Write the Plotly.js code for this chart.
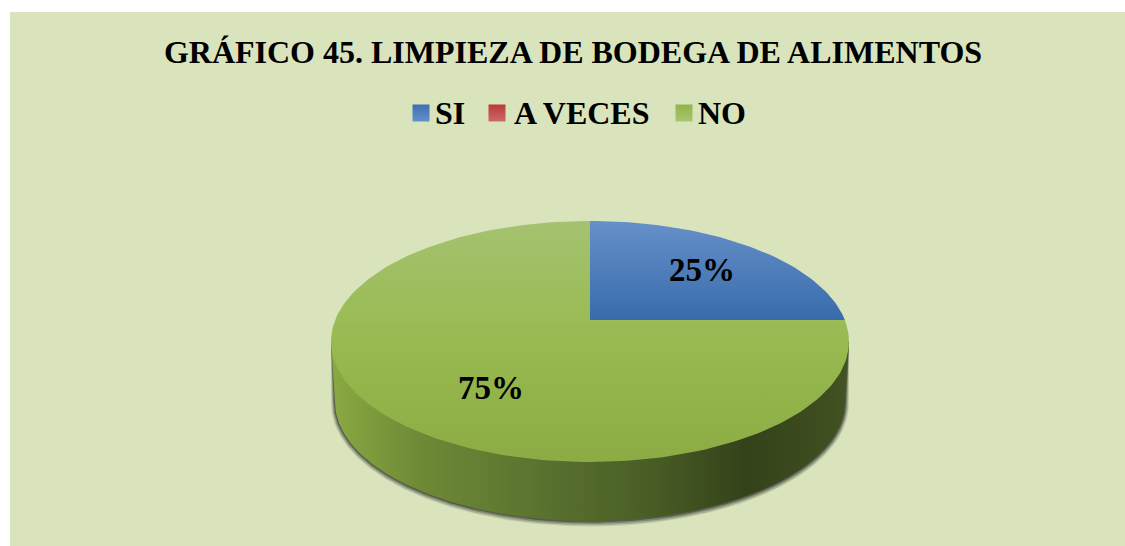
<!DOCTYPE html>
<html><head><meta charset="utf-8">
<script src="https://cdn.plot.ly/plotly-3.0.1.min.js"></script>
<style>html,body{margin:0;padding:0;background:#fff}#c{width:1125px;height:546px}</style>
</head><body><div id="c"></div>
<script>
// ---- data ----
const categories = ["SI", "A VECES", "NO"];
const values = [25, 0, 75];
const chartTitle = "GRÁFICO 45. LIMPIEZA DE BODEGA DE ALIMENTOS";

// ---- styles ----
const FONT = "Liberation Serif";
const BG = "#d9e4bd";
// the y axis runs downward, so stop 0 is the lower edge of each face
const gradients = {
  "SI": [[0, "#386bac"], [1, "#6690c8"]],
  "A VECES": [[0, "#b93633"], [1, "#cb6a68"]],
  "NO": [[0, "#8cab44"], [0.5, "#98ba50"], [1, "#a5c270"]]
};
const swatchStops = {"SI": ["#6690c8", "#3c70b2"], "A VECES": ["#cb6a68", "#bb3a37"], "NO": ["#a8c574", "#92b445"]};
const wallScale = [[0, "#8aa942"], [0.17, "#6f8a36"], [0.38, "#5c7530"], [0.62, "#485d25"], [0.8, "#34421a"], [0.97, "#404f20"], [1, "#445424"]];

// ---- projection of the tilted disc (pixel space of the axes) ----
const CX = 590, CY = 341.5, A = 259, B = 120.5;   // top rim
const APEX = {x: 590, y: 320};                    // projected centre of the disc
const WALL = {cy: 402, a: 255, b: 119};           // bottom rim
const TAU = 2 * Math.PI, STEPS = 240;

function rimPoint(theta) {
  // ray from the apex in the projected direction of angle theta (clockwise from top) meets the top rim
  const dx = Math.sin(theta) * A, dy = -Math.cos(theta) * B;
  const ox = APEX.x - CX, oy = APEX.y - CY;
  const qa = dx * dx / (A * A) + dy * dy / (B * B);
  const qb = 2 * (ox * dx / (A * A) + oy * dy / (B * B));
  const qc = ox * ox / (A * A) + oy * oy / (B * B) - 1;
  const t = (-qb + Math.sqrt(qb * qb - 4 * qa * qc)) / (2 * qa);
  return [APEX.x + t * dx, APEX.y + t * dy];
}
function slicePath(from, to) {
  const xs = [APEX.x], ys = [APEX.y];
  const n = Math.max(2, Math.ceil(STEPS * (to - from) / TAU));
  for (let i = 0; i <= n; i++) {
    const p = rimPoint(from + (to - from) * i / n);
    xs.push(p[0]); ys.push(p[1]);
  }
  xs.push(APEX.x); ys.push(APEX.y);
  return {x: xs, y: ys};
}
function wallPath(grow, dy) {
  const xs = [], ys = [];
  // upper edge: top rim's horizontal diameter, lower edge: bottom rim arc
  for (let i = 0; i <= STEPS; i++) {
    const t = Math.PI * i / STEPS;
    xs.push(CX - (WALL.a + grow) * Math.cos(t));
    ys.push(WALL.cy + dy + (WALL.b + grow) * Math.sin(t));
  }
  xs.push(CX + A, CX - A); ys.push(CY, CY);
  xs.push(xs[0]); ys.push(ys[0]);
  return {x: xs, y: ys};
}

const traces = [];
// soft shadow
[[4, 1.5, 0.10], [3, 1.5, 0.16], [2, 1, 0.24], [1, 0.5, 0.34]].forEach(s => {
  const p = wallPath(s[0], s[1]);
  traces.push({type: "scatter", mode: "lines", x: p.x, y: p.y, fill: "toself",
    fillcolor: "rgba(10,10,10," + s[2] + ")", line: {width: 0, color: "rgba(0,0,0,0)"}, hoverinfo: "skip", showlegend: false});
});
// side wall
const w = wallPath(0, 0);
traces.push({type: "scatter", mode: "lines", x: w.x, y: w.y, fill: "toself",
  fillgradient: {type: "horizontal", colorscale: wallScale},
  line: {width: 0, color: "rgba(0,0,0,0)"}, hoverinfo: "skip", showlegend: false});
// top face
const total = values.reduce((a, b) => a + b, 0);
let acc = 0;
categories.forEach((c, i) => {
  const from = acc / total * TAU; acc += values[i];
  const to = acc / total * TAU;
  if (values[i] <= 0) return;
  const p = slicePath(from, to);
  traces.push({type: "scatter", mode: "lines", name: c, x: p.x, y: p.y, fill: "toself",
    fillgradient: {type: "vertical", colorscale: gradients[c]},
    line: {width: 0, color: "rgba(0,0,0,0)"}, hoverinfo: "skip", showlegend: false});
});

// legend swatches
const legendX = {swatch: [421, 497, 684], text: [433, 512, 696], y: 113};
categories.forEach((c, i) => {
  traces.push({type: "scatter", mode: "markers", x: [legendX.swatch[i]], y: [legendX.y],
    marker: {symbol: "square", size: 17, color: swatchStops[c][1], line: {width: 0},
      gradient: {type: "vertical", color: swatchStops[c][0]}},
    hoverinfo: "skip", showlegend: false});
});

const annotations = categories.map((c, i) => ({
  x: legendX.text[i], y: legendX.y, xref: "x", yref: "y", text: c, showarrow: false,
  xanchor: "left", yanchor: "middle", font: {family: FONT, size: 32, color: "#000", weight: 700}
}));
// percentage labels
const labelPos = [[701.5, 270], null, [491, 388]];
categories.forEach((c, i) => {
  if (values[i] <= 0) return;
  annotations.push({x: labelPos[i][0], y: labelPos[i][1], xref: "x", yref: "y",
    text: Math.round(values[i] / total * 100) + "%", showarrow: false,
    xanchor: "center", yanchor: "middle", font: {family: FONT, size: 33, color: "#000", weight: 700}});
});

Plotly.newPlot("c", traces, {
  width: 1125, height: 546,
  paper_bgcolor: "#ffffff", plot_bgcolor: BG,
  margin: {l: 10, t: 12, r: 0, b: 0, pad: 0},
  showlegend: false,
  title: {text: chartTitle, x: 573 / 1125, xref: "container", xanchor: "center", y: 1 - 52 / 546, yref: "container", yanchor: "middle",
    font: {family: FONT, size: 32, color: "#000", weight: 700}},
  xaxis: {range: [10, 1125], visible: false, fixedrange: true},
  yaxis: {range: [546, 12], visible: false, fixedrange: true},
  annotations: annotations
}, {displayModeBar: false, staticPlot: true});
</script></body></html>
